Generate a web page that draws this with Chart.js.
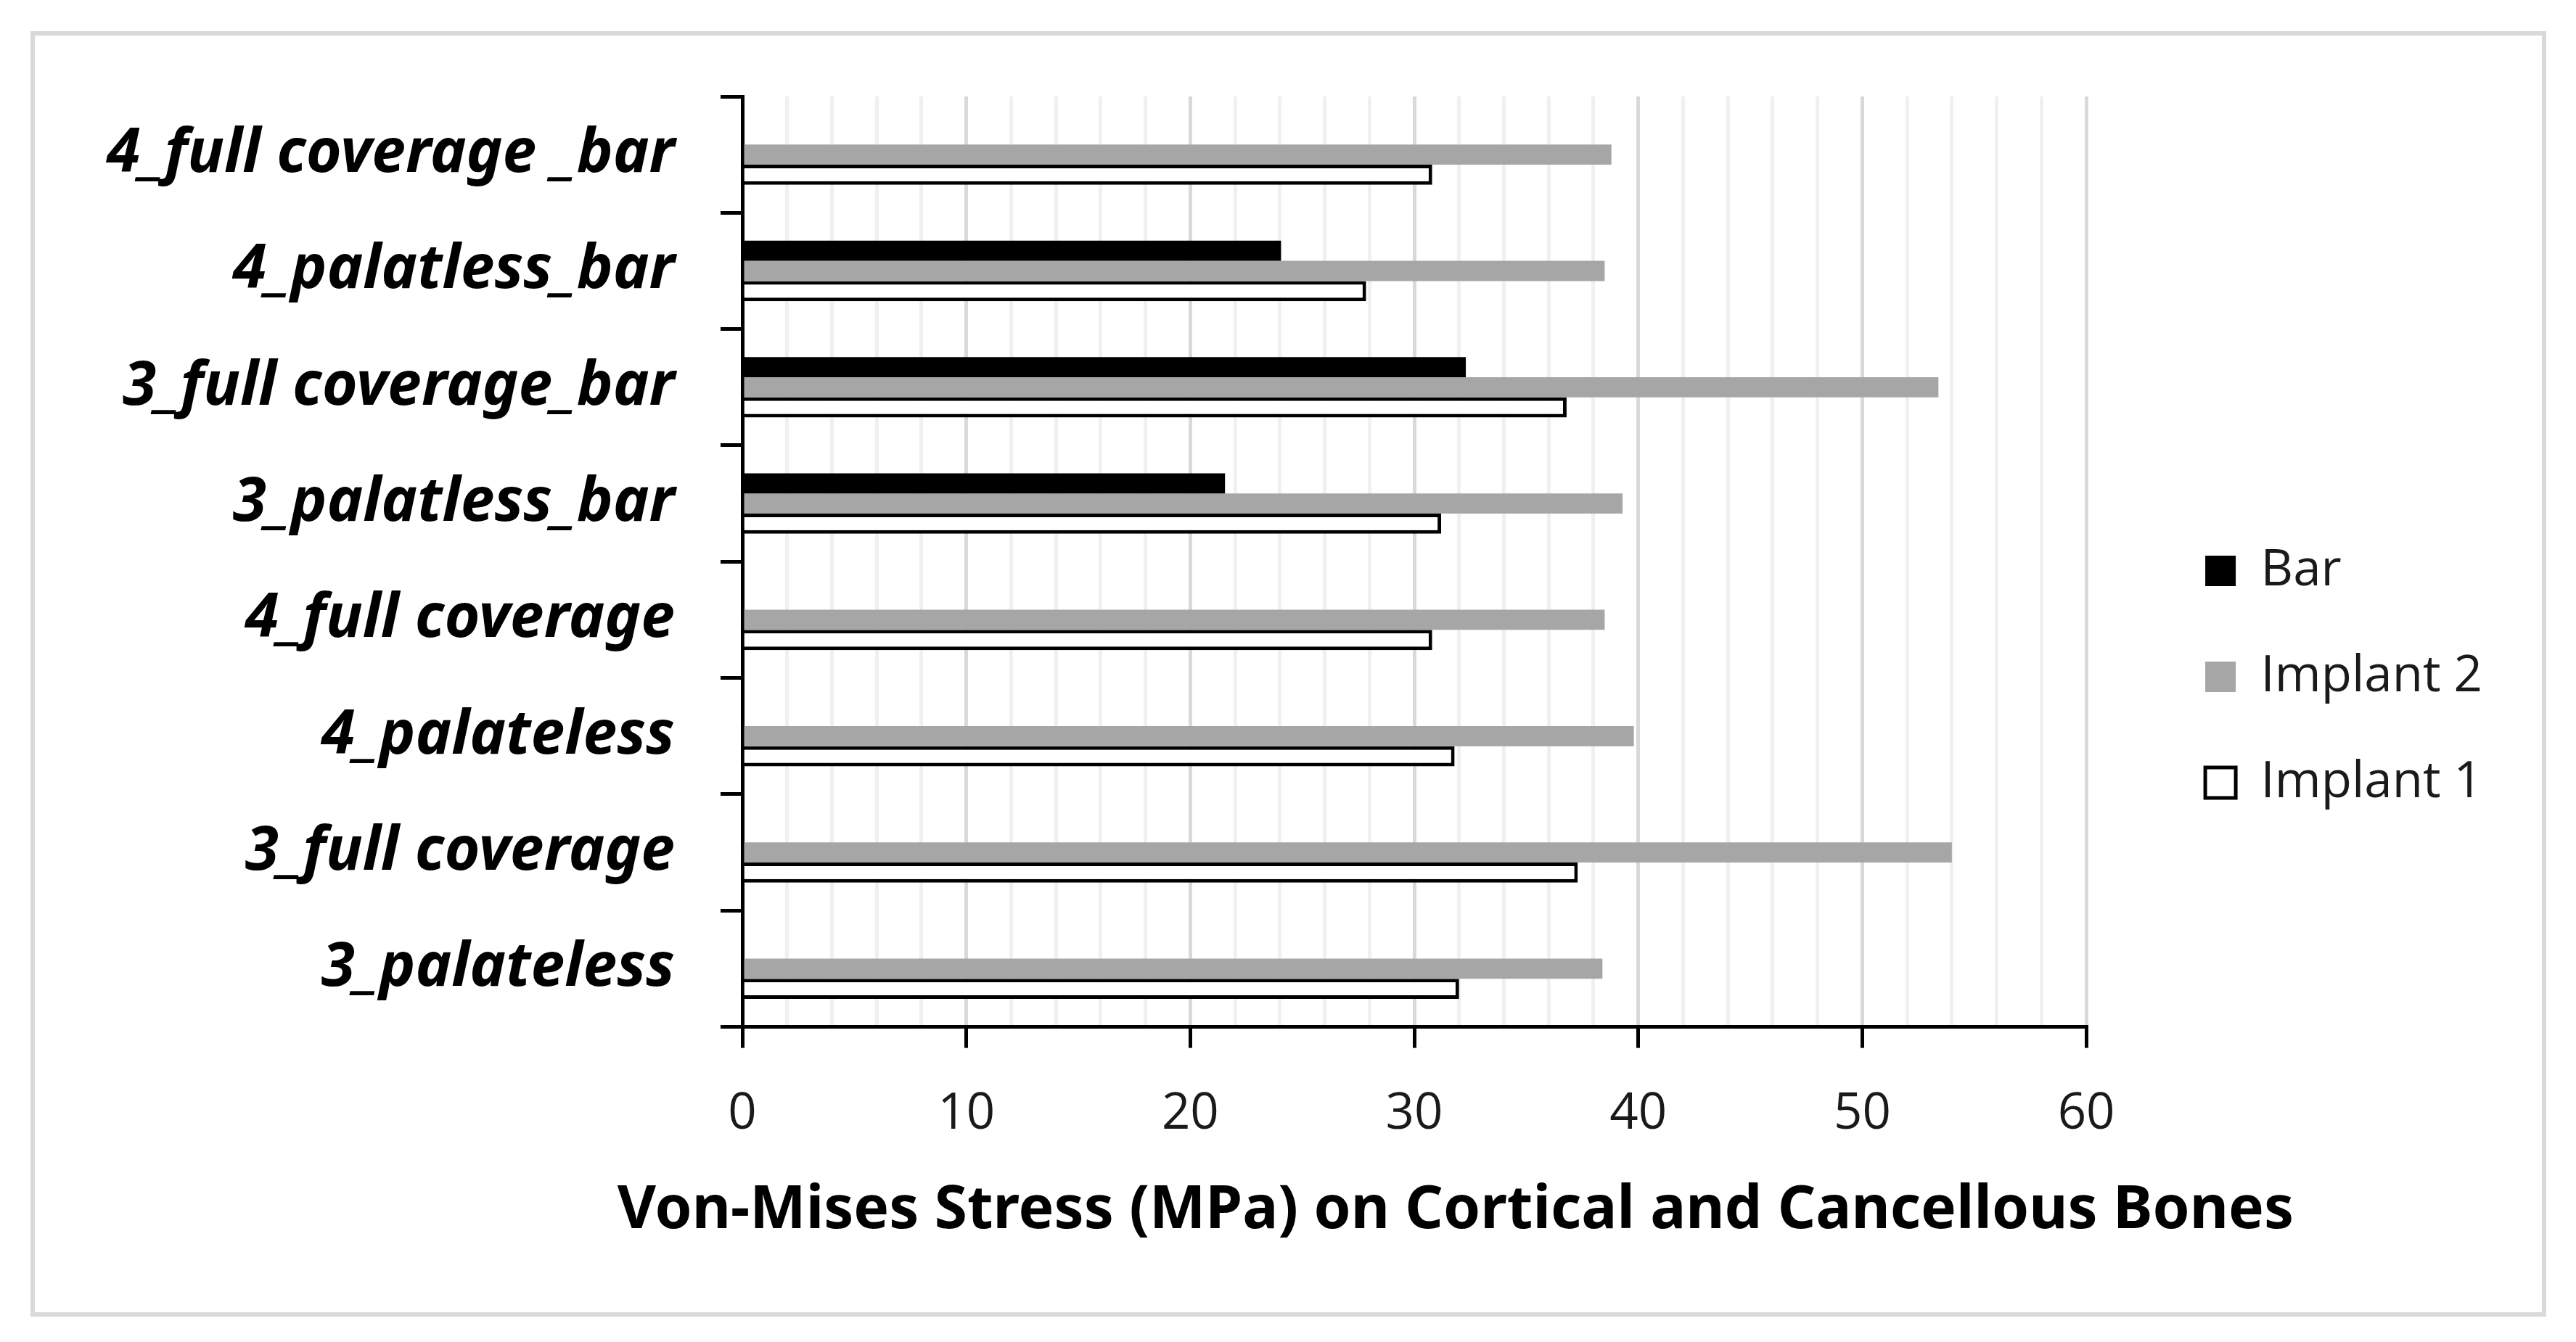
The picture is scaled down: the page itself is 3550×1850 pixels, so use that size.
<!DOCTYPE html>
<html>
<head>
<meta charset="utf-8">
<title>Von-Mises Stress</title>
<script src="https://cdn.jsdelivr.net/npm/chart.js@4.4.1/dist/chart.umd.min.js"></script>
<style>
  html, body { margin: 0; padding: 0; background: #fff; }
  #frame {
    position: absolute; left: 42px; top: 43px;
    width: 3467px; height: 1772px;
    border: 6px solid #d9d9d9; box-sizing: border-box; background: #fff;
  }
  #wrap { position: relative; width: 3455px; height: 1760px; }
</style>
</head>
<body>
<div id="frame"><div id="wrap"><canvas id="chart-stress"></canvas></div></div>
<script>
// ── Data ──────────────────────────────────────────────────────────────────────
const categories = [
  '4_full coverage _bar',
  '4_palatless_bar',
  '3_full coverage_bar',
  '3_palatless_bar',
  '4_full coverage',
  '4_palateless',
  '3_full coverage',
  '3_palateless',
];
const seriesNames = ['Bar', 'Implant 2', 'Implant 1'];
const barValues      = [null, 24.05, 32.3, 21.55, null, null, null, null];
const implant2Values = [38.8, 38.5, 53.4, 39.3, 38.5, 39.8, 54.0, 38.4];
const implant1Values = [30.8, 27.85, 36.8, 31.2, 30.8, 31.8, 37.3, 32.0];

const xMin = 0;
const xMax = 60;
const majorStep = 10;
const minorStep = 2;
const xTitle = 'Von-Mises Stress (MPa) on Cortical and Cancellous Bones';

// ── Styling ───────────────────────────────────────────────────────────────────
const FONT = "'Open Sans', sans-serif";
const FONT_BOLD = "'Noto Sans', 'Open Sans', sans-serif";
const TEXT_DARK = '#1a1a1a';
const isMajor = (v) => v % majorStep === 0;

function render() {
  Chart.defaults.font.family = FONT;

  const datasets = [
    {
      label: seriesNames[0],
      data: barValues,
      backgroundColor: '#000000',
      borderWidth: 0,
    },
    {
      label: seriesNames[1],
      data: implant2Values,
      backgroundColor: '#a6a6a6',
      borderWidth: 0,
    },
    {
      label: seriesNames[2],
      data: implant1Values,
      backgroundColor: '#ffffff',
      borderColor: '#000000',
      borderWidth: 5,
    },
  ];

  new Chart(document.getElementById('chart-stress'), {
    type: 'bar',
    data: { labels: categories, datasets },
    options: {
      indexAxis: 'y',
      responsive: true,
      maintainAspectRatio: false,
      animation: false,
      categoryPercentage: 0.52,
      barPercentage: 1.0,
      layout: { padding: { top: 84, bottom: 76, left: 0, right: 72 } },
      plugins: {
        tooltip: { enabled: false },
        legend: {
          position: 'right',
          labels: {
            color: TEXT_DARK,
            font: { size: 69 },
            boxWidth: 42,
            boxHeight: 42,
            padding: 77,
          },
        },
        // axis title as a full-width bottom title (an axis title gets squeezed
        // to the plot width); leading spaces push it right like the original
        title: {
          display: true,
          position: 'bottom',
          text: '\u00a0'.repeat(25) + xTitle,
          color: '#000000',
          font: { family: FONT_BOLD, size: 82, weight: 'bold' },
          padding: { top: 0, bottom: 14 },
        },
      },
      scales: {
        x: {
          type: 'linear',
          min: xMin,
          max: xMax,
          ticks: {
            stepSize: minorStep,
            autoSkip: false,
            maxRotation: 0,
            padding: 50,
            color: TEXT_DARK,
            font: { size: 69 },
            callback: (v) => (isMajor(v) ? v : ''),
          },
          grid: {
            color: (ctx) => (ctx.tick && isMajor(ctx.tick.value) ? '#d9d9d9' : '#f0f0f0'),
            lineWidth: 5,
            tickLength: 29,
            tickWidth: 5,
            tickColor: (ctx) => (ctx.tick && isMajor(ctx.tick.value) ? '#000000' : 'rgba(0,0,0,0)'),
          },
          border: { display: true, color: '#000000', width: 5 },
          afterFit: (s) => { s.height = 205; s.paddingLeft = 0; s.paddingRight = 0; },
        },
        y: {
          ticks: {
            color: '#000000',
            font: { family: FONT_BOLD, size: 84, weight: 'bold', style: 'italic' },
            padding: 63,
          },
          grid: {
            drawOnChartArea: false,
            drawTicks: true,
            tickLength: 30,
            color: '#000000',
            lineWidth: 5,
            offset: true,
          },
          border: { display: true, color: '#000000', width: 5 },
          afterFit: (s) => { s.width = 975; s.paddingTop = 0; s.paddingBottom = 0; },
        },
        // spacer between plot and legend
        gap: {
          type: 'linear',
          position: 'right',
          display: true,
          grid: { display: false },
          ticks: { display: false },
          border: { display: false },
          afterFit: (s) => { s.width = 87; s.paddingTop = 0; s.paddingBottom = 0; },
        },
      },
    },
  });
}

Promise.all([
  document.fonts.load("69px 'Open Sans'"),
  document.fonts.load("bold 82px 'Noto Sans'"),
  document.fonts.load("italic bold 84px 'Noto Sans'"),
]).then(render, render);
</script>
</body>
</html>
